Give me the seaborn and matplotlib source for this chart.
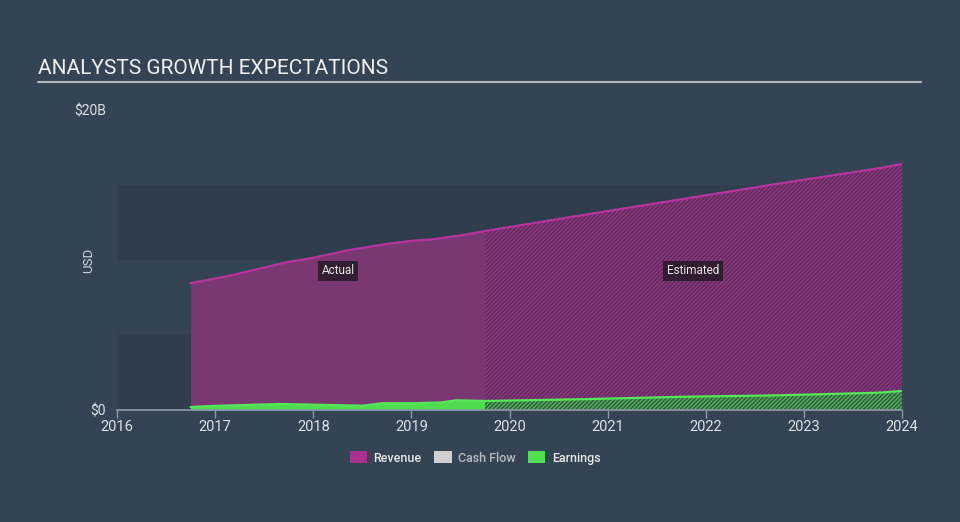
import numpy as np
import pandas as pd
import matplotlib
matplotlib.use("Agg")
import matplotlib.pyplot as plt
from matplotlib.patches import Patch
import seaborn as sns

# ---- data (USD billions) ----
years_actual = [2016.75, 2017.18, 2017.73, 2018.0, 2018.37, 2018.75, 2019.02, 2019.22, 2019.53, 2019.75]
revenue_actual = [8.45, 9.0, 9.85, 10.15, 10.67, 11.07, 11.29, 11.38, 11.67, 11.93]
earn_years_actual = [2016.75, 2016.98, 2017.66, 2018.17, 2018.5, 2018.7, 2019.0, 2019.3, 2019.46, 2019.75]
earnings_actual = [0.2, 0.27, 0.4, 0.33, 0.29, 0.45, 0.45, 0.5, 0.65, 0.6]

years_est = [2019.75, 2020.75, 2021.75, 2022.75, 2023.75, 2024.0]
revenue_est = [11.93, 13.0, 14.05, 15.1, 16.1, 16.4]
earnings_est = [0.55, 0.72, 0.88, 0.98, 1.15, 1.27]

x_ticks = [2016, 2017, 2018, 2019, 2020, 2021, 2022, 2023, 2024]
legend_labels = ["Revenue", "Cash Flow", "Earnings"]

# ---- style ----
BG = "#344454"
sns.set_theme(style="dark")
plt.rcParams["font.family"] = ["Roboto", "DejaVu Sans"]
plt.rcParams["hatch.linewidth"] = 0.9

fig = plt.figure(figsize=(9.6, 5.22), dpi=100, facecolor=BG)
ax = fig.add_axes([117 / 960, 1 - 410 / 522, (902 - 117) / 960, 300 / 522])
ax.set_facecolor(BG)

# background bands
ax.axhspan(0, 5, color="#2f3d4d", zorder=0, lw=0)
ax.axhspan(5, 10, color="#344353", zorder=0, lw=0)
ax.axhspan(10, 15, color="#2f3d4d", zorder=0, lw=0)

REV_LINE = "#b8329e"
REV_FILL = "#7a3873"
REV_EST_BG = "#5c2f5c"
GREEN = "#4fdc50"

# revenue actual area
ax.fill_between(years_actual, 0, revenue_actual, color=REV_FILL, lw=0, zorder=1)
# revenue estimated hatched area
ax.fill_between(years_est, 0, revenue_est, facecolor=REV_EST_BG, edgecolor="#983586",
                hatch="////////", lw=0, zorder=1)

# earnings actual
ax.fill_between(earn_years_actual, 0, earnings_actual, color=GREEN, lw=0, zorder=2)
# earnings estimated hatched
ax.fill_between(years_est, 0, earnings_est, facecolor="#3e5a4c", edgecolor="#48bf4b",
                hatch="////////", lw=0, zorder=2)

# lines through seaborn
df_rev = pd.DataFrame({"year": years_actual + years_est[1:],
                       "value": revenue_actual + revenue_est[1:]})
df_earn = pd.DataFrame({"year": earn_years_actual + years_est[1:],
                        "value": earnings_actual + earnings_est[1:]})
sns.lineplot(data=df_rev, x="year", y="value", ax=ax, color=REV_LINE, lw=1.6, zorder=3)
sns.lineplot(data=df_earn, x="year", y="value", ax=ax, color="#55e856", lw=1.6, zorder=3)

# labels on areas
box = dict(boxstyle="square,pad=0.3", fc="#2b1a2b", ec="none", alpha=0.9)
ax.text(2016 + (338 - 117) / 98.1, 9.27, "Actual", color="#e6e6e6", fontsize=8.5,
        ha="center", va="center", bbox=box, zorder=5)
ax.text(2016 + (693 - 117) / 98.1, 9.27, "Estimated", color="#e6e6e6", fontsize=8.5,
        ha="center", va="center", bbox=box, zorder=5)

ax.set_xlim(2016, 2024.0)
ax.set_ylim(0, 20)
ax.set_xticks(x_ticks)
ax.set_xticklabels([str(t) for t in x_ticks])
ax.set_yticks([0, 20])
ax.set_yticklabels(["$0", "$20B"])
ax.set_xlabel("")
ax.set_ylabel("USD", color="#d0d4d8", fontsize=9.5, labelpad=6)
ax.yaxis.set_label_coords(-0.028, 0.5)
ax.tick_params(axis="x", colors="#8f9aa6", labelcolor="#dde1e5", labelsize=10.5,
               length=6, width=1, direction="out", pad=1, bottom=True)
ax.tick_params(axis="y", colors=BG, labelcolor="#dde1e5", labelsize=10, length=0, pad=8, left=False)
for side in ["top", "right", "left"]:
    ax.spines[side].set_visible(False)
ax.spines["bottom"].set_color("#8f9aa6")
ax.spines["bottom"].set_linewidth(1.2)
ax.grid(False)

# title
fig.text(38 / 960, 1 - 69 / 522, "ANALYSTS GROWTH EXPECTATIONS", color="#f0f0f0",
         fontsize=15.0, ha="left", va="center")
fig.add_artist(plt.Line2D([38 / 960, 921 / 960], [1 - 82 / 522, 1 - 82 / 522],
                          color="#b4b8bd", lw=1.5))

# legend
handles = [Patch(facecolor="#a8308f", edgecolor="none"),
           Patch(facecolor="#d0d0d0", edgecolor="none"),
           Patch(facecolor="#4fe14f", edgecolor="none")]
leg = fig.legend(handles, legend_labels, loc="center", bbox_to_anchor=(475 / 960, 1 - 458 / 522),
                 ncol=3, frameon=False, fontsize=9, handlelength=1.4, handleheight=1.1,
                 columnspacing=1.0, handletextpad=0.5)
for t, c in zip(leg.get_texts(), ["#e8e8e8", "#b8bcc0", "#e8e8e8"]):
    t.set_color(c)
    t.set_fontweight("medium")

fig.savefig("out.png", dpi=100, facecolor=BG)
